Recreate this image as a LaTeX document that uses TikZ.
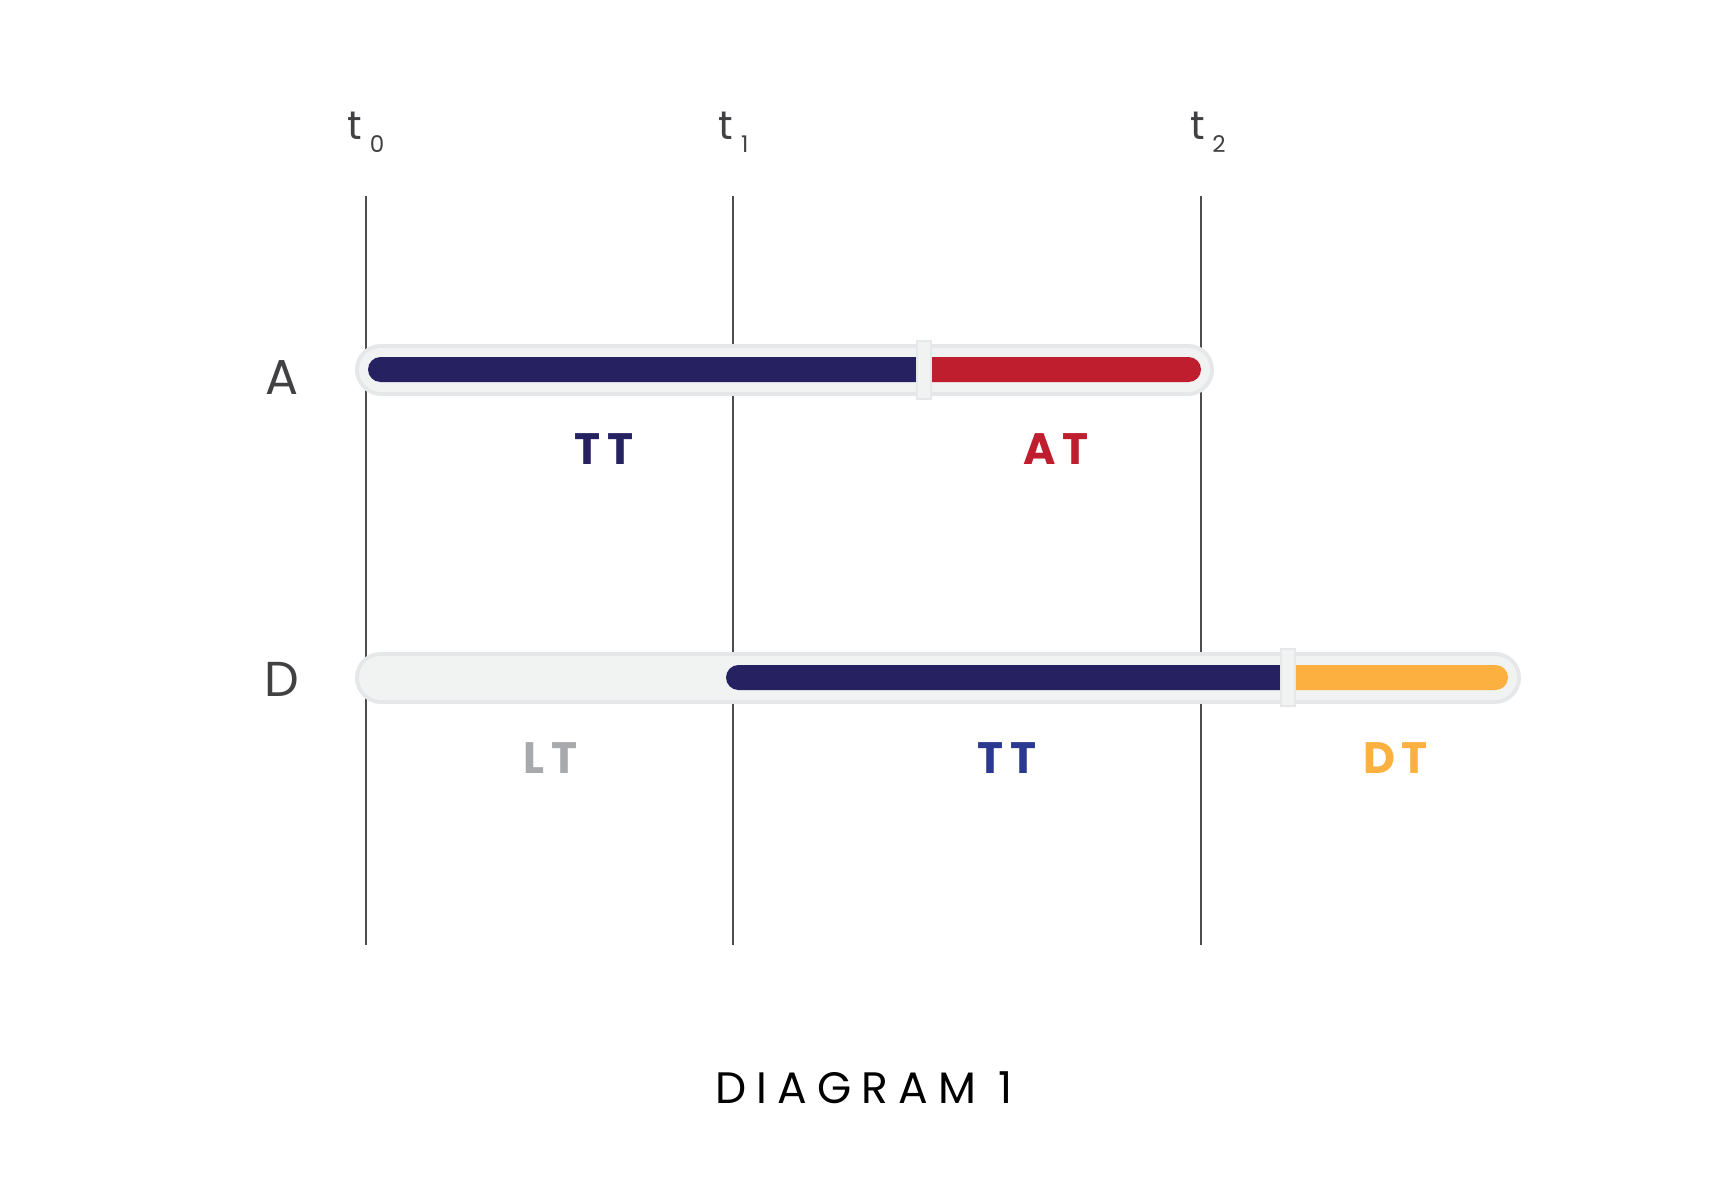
\documentclass[tikz,border=0pt]{standalone}
\usepackage{fontspec}
\setmainfont{Poppins}
\newfontfamily\spacedfont[LetterSpace=23]{Poppins}
\newfontfamily\lblfont[LetterSpace=14]{Poppins}
\definecolor{navy}{HTML}{262262}
\definecolor{redc}{HTML}{BE1E2D}
\definecolor{orangec}{HTML}{FBB040}
\definecolor{greyl}{HTML}{A7A9AC}
\definecolor{bluel}{HTML}{2B3990}
\definecolor{barfill}{HTML}{F1F2F2}
\definecolor{barline}{HTML}{E6E7E8}
\definecolor{ink}{HTML}{414042}
\definecolor{vline}{HTML}{4D4D4F}
\tikzset{
  vl/.style={draw=vline, line width=2pt},
  outerA/.style={line width=52pt, line cap=round, draw=barline},
  innerA/.style={line width=44pt, line cap=round, draw=barfill},
  sep/.style={fill=barfill, draw=barline, line width=2pt},
  rowlbl/.style={inner sep=0pt, text=ink, font=\fontsize{49}{50}\selectfont},
  tlbl/.style={inner sep=0pt, text=ink, font=\fontsize{40}{42}\selectfont},
  sublbl/.style={inner sep=0pt, text=ink, font=\fontsize{23}{25}\selectfont},
  seglbl/.style={inner sep=0pt, font=\lblfont\bfseries\fontsize{44}{46}\selectfont},
}
\begin{document}
\begin{tikzpicture}[x=1pt,y=-1pt]
\useasboundingbox[fill=white] (0,0) rectangle (1723,1185);
% vertical time lines
\coordinate (l0t) at (366,196); \coordinate (l0b) at (366,945);
\coordinate (l1t) at (733,196); \coordinate (l1b) at (733,945);
\coordinate (l2t) at (1201,196); \coordinate (l2b) at (1201,945);
\draw[vl] (l0t) -- (l0b);
\draw[vl] (l1t) -- (l1b);
\draw[vl] (l2t) -- (l2b);
% time labels
\node[tlbl] (t0) at (355,126) {t};
\node[sublbl] (s0) at (377,144.5) {0};
\node[tlbl] (t1) at (726,126) {t};
\node[sublbl] (s1) at (744.7,144.5) {1};
\node[tlbl] (t2) at (1198,126) {t};
\node[sublbl] (s2) at (1219,144.5) {2};
% bar A
\coordinate (aL) at (381,369.5); \coordinate (aR) at (1188,369.5);
\draw[outerA] (aL) -- (aR);
\draw[innerA] (aL) -- (aR);
\fill[navy] (924,357) [rounded corners=12.5] -- (368,357) -- (368,382) [sharp corners] -- (924,382) -- cycle;
\fill[redc] (924,357) [rounded corners=12.5] -- (1201,357) -- (1201,382) [sharp corners] -- (924,382) -- cycle;
\draw[sep] (916.5,341) rectangle (930.5,399);
% bar D
\coordinate (dL) at (381,677.5); \coordinate (dR) at (1495,677.5);
\draw[outerA] (dL) -- (dR);
\draw[innerA] (dL) -- (dR);
\fill[navy] (1288,665) [rounded corners=12.5] -- (726,665) -- (726,690) [sharp corners] -- (1288,690) -- cycle;
\fill[orangec] (1288,665) [rounded corners=12.5] -- (1508,665) -- (1508,690) [sharp corners] -- (1288,690) -- cycle;
\draw[sep] (1281,649) rectangle (1295,706);
% row labels
\node[rowlbl] (rA) at (282,378) {A};
\node[rowlbl] (rD) at (282,679) {D};
% segment labels
\node[seglbl, text=navy] (ttA) at (604,449) {TT};
\node[seglbl, text=redc] (atA) at (1056,449) {AT};
\node[seglbl, text=greyl] (ltD) at (550.5,758) {LT};
\node[seglbl, text=bluel] (ttD) at (1007,758) {TT};
\node[seglbl, text=orangec] (dtD) at (1395.6,758) {DT};
% caption
\node[inner sep=0pt, text=black, font=\spacedfont\fontsize{44}{46}\selectfont] (cap) at (864,1088) {DIAGRAM 1};
\end{tikzpicture}
\end{document}
